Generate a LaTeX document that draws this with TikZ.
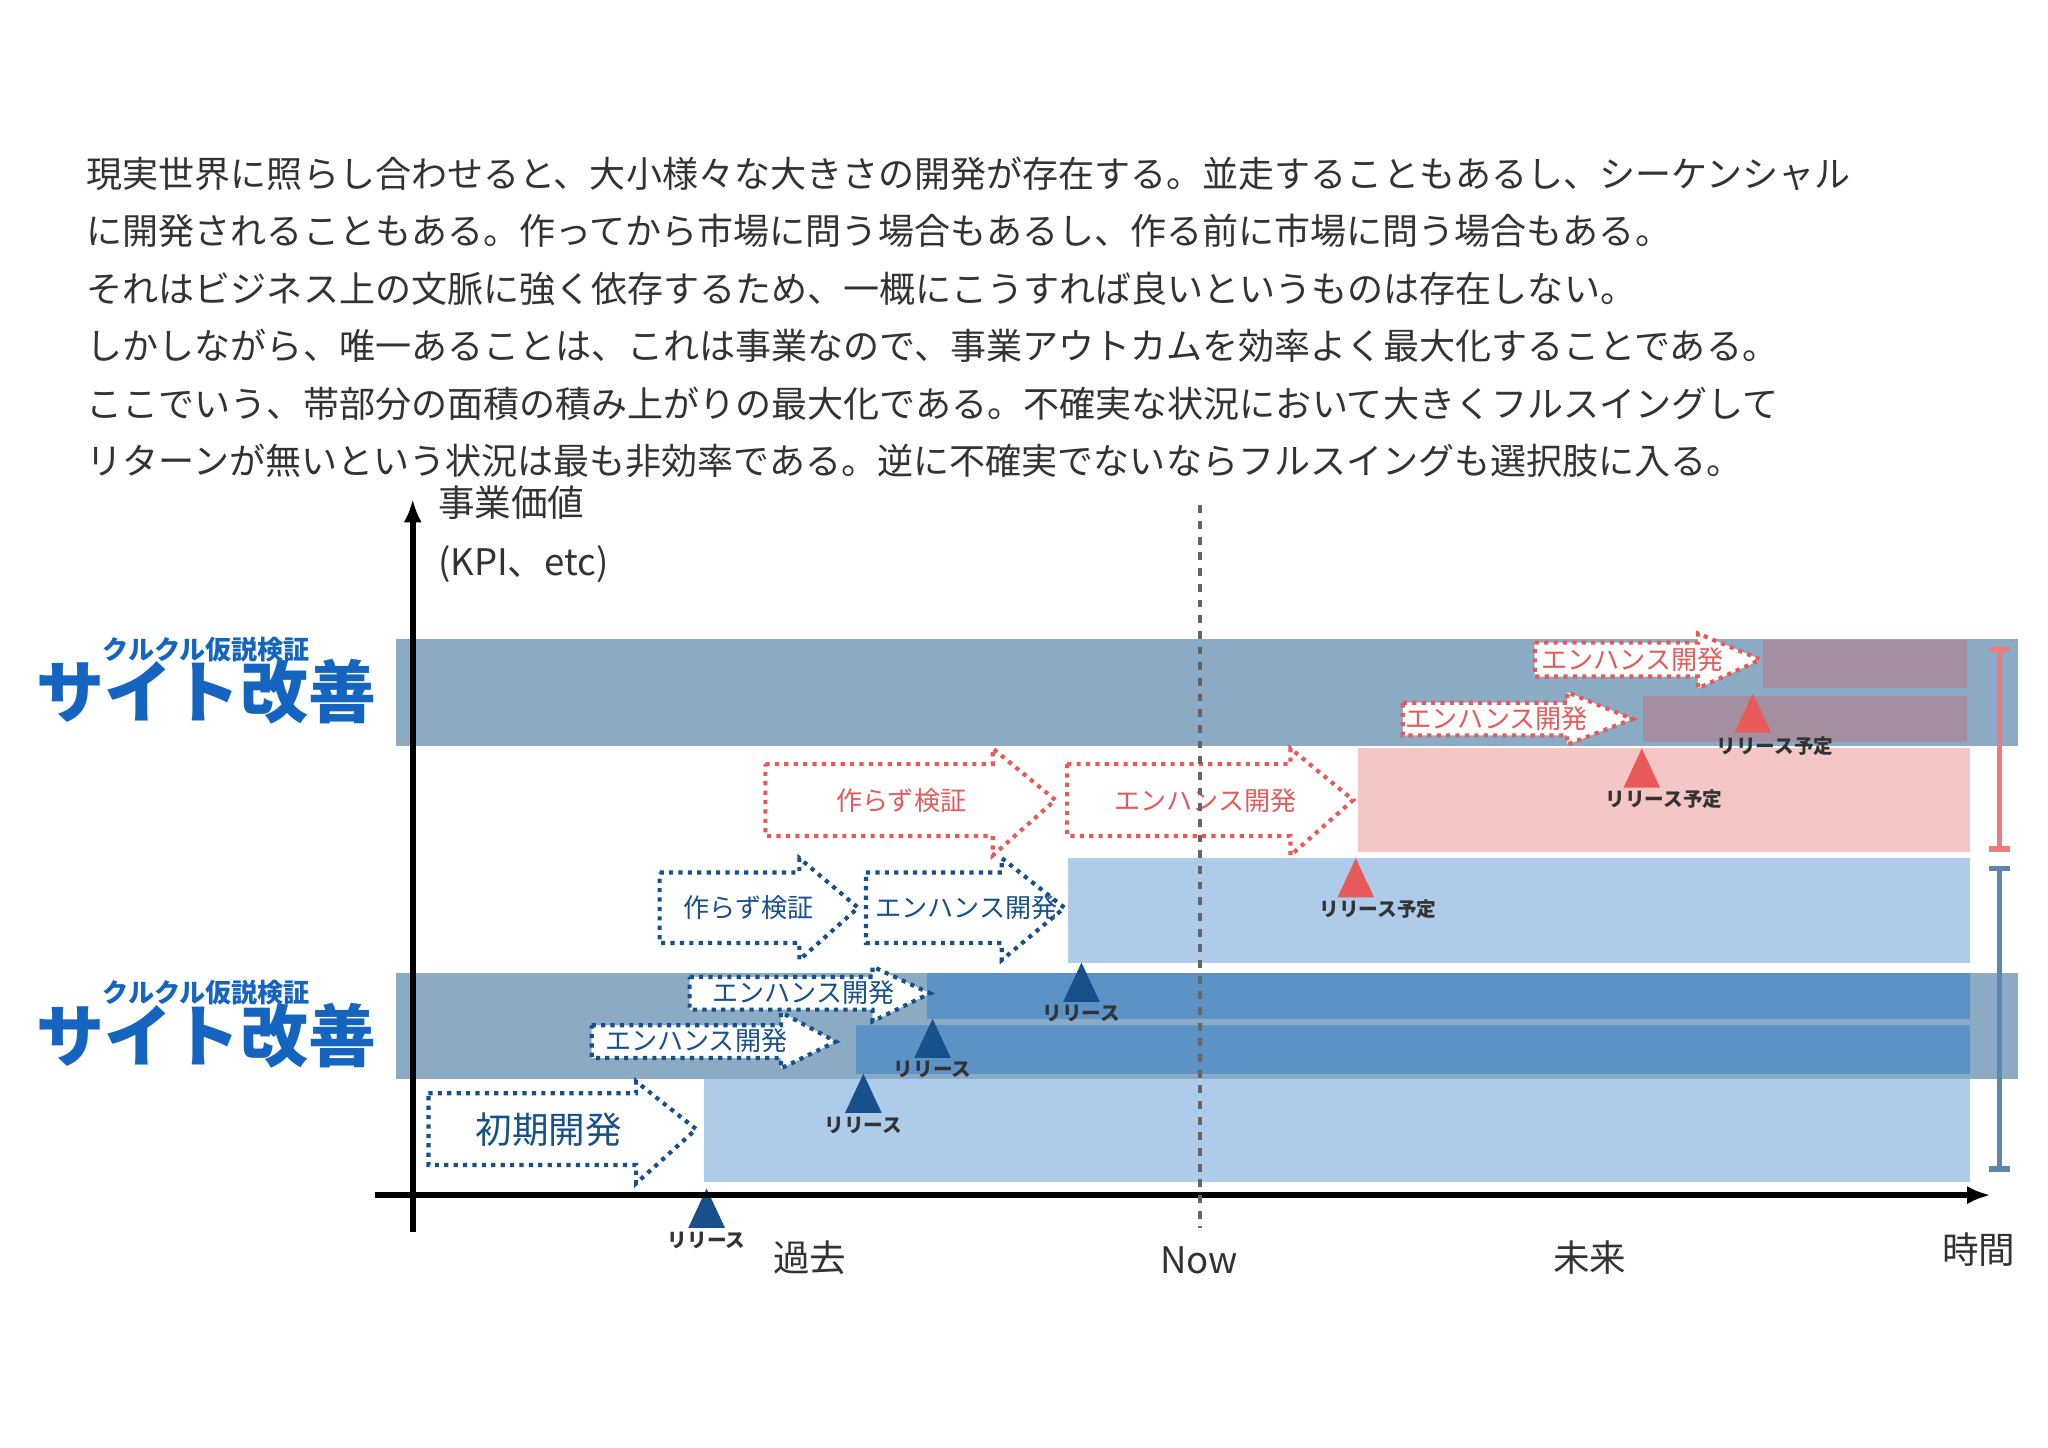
\documentclass[tikz,border=0pt]{standalone}
\usepackage{fontspec}
\setmainfont{Noto Sans CJK JP}
\usetikzlibrary{arrows.meta}
\definecolor{band}{HTML}{8BAAC4}
\definecolor{lblue}{HTML}{AECBE9}
\definecolor{dblue}{HTML}{5B93C6}
\definecolor{pinkr}{HTML}{F5C6C6}
\definecolor{purp}{HTML}{A48FA0}
\definecolor{navy}{HTML}{17508A}
\definecolor{redd}{HTML}{E85A5A}
\definecolor{title}{HTML}{1565C0}
\definecolor{txt}{HTML}{333333}
\tikzset{
 para/.style={anchor=west,font=\fontsize{13.8pt}{16pt}\selectfont,text=txt,inner sep=0},
 rel/.style={font=\bfseries\fontsize{7.5pt}{9pt}\selectfont,text=txt,inner sep=0},
 axl/.style={font=\fontsize{14pt}{16pt}\selectfont,text=txt,inner sep=0},
 barr/.style={draw=navy,dotted,line width=1.6pt,fill=white},
 rarr/.style={draw=redd,dotted,line width=1.6pt,fill=white},
}
% body x1,y1,y2 ; head xh,yh1,yh2 ; tip
\newcommand{\darr}[8]{\path[#1] (#2,#3)--(#5,#3)--(#5,#6)--(#8,{(#3+#4)/2})--(#5,#7)--(#5,#4)--(#2,#4)--cycle;}
\begin{document}
\begin{tikzpicture}[x=0.5pt,y=-0.5pt]
\useasboundingbox (0,0) rectangle (1568,1108);
\fill[white] (0,0) rectangle (1568,1108);
\node[para] (p1) at (66,133) {現実世界に照らし合わせると、大小様々な大きさの開発が存在する。並走することもあるし、シーケンシャル};
\node[para] (p2) at (66,177) {に開発されることもある。作ってから市場に問う場合もあるし、作る前に市場に問う場合もある。};
\node[para] (p3) at (66,221) {それはビジネス上の文脈に強く依存するため、一概にこうすれば良いというものは存在しない。};
\node[para] (p4) at (66,265) {しかしながら、唯一あることは、これは事業なので、事業アウトカムを効率よく最大化することである。};
\node[para] (p5) at (66,309) {ここでいう、帯部分の面積の積み上がりの最大化である。不確実な状況において大きくフルスイングして};
\node[para] (p6) at (66,353) {リターンが無いという状況は最も非効率である。逆に不確実でないならフルスイングも選択肢に入る。};
% bands
\fill[band] (303,489) rectangle (1545,571);
\fill[band] (303,745) rectangle (1545,826);
\fill[lblue] (539,826) rectangle (1508,905);
\fill[lblue] (818,657) rectangle (1508,737);
\fill[dblue] (655,785) rectangle (1508,822);
\fill[dblue] (710,745) rectangle (1508,780);
\fill[pinkr] (1040,573) rectangle (1508,652);
\fill[purp] (1258,533) rectangle (1506,568);
\fill[purp] (1350,490) rectangle (1506,527);
% titles
\foreach \yy/\nm in {497/a,760/b}{
 \node[font=\bfseries\fontsize{10pt}{12pt}\selectfont,text=title,inner sep=0] (k\nm) at (158,\yy) {クルクル仮説検証};
 \node[font=\bfseries\fontsize{26pt}{30pt}\selectfont,text=title,inner sep=0] (s\nm) at (158,\yy+33) {サイト改善};
}
% dotted arrows blue
\darr{barr}{328}{837}{892}{487}{828}{906}{533}
\node[font=\fontsize{14pt}{16pt}\selectfont,text=navy] (t1) at (420,865) {初期開発};
\darr{barr}{505}{668}{722}{612}{657}{735}{657}
\node[font=\fontsize{10pt}{12pt}\selectfont,text=navy] (t2) at (573,695) {作らず検証};
\darr{barr}{663}{668}{722}{767}{657}{735}{815}
\node[font=\fontsize{10pt}{12pt}\selectfont,text=navy] (t3) at (740,695) {エンハンス開発};
\darr{barr}{528}{748}{773}{668}{740}{782}{712}
\node[font=\fontsize{10pt}{12pt}\selectfont,text=navy] (t4) at (615,760) {エンハンス開発};
\darr{barr}{453}{785}{810}{598}{775}{818}{640}
\node[font=\fontsize{10pt}{12pt}\selectfont,text=navy] (t5) at (533,797) {エンハンス開発};
% red
\darr{rarr}{586}{585}{640}{760}{573}{655}{808}
\node[font=\fontsize{10pt}{12pt}\selectfont,text=redd] (t6) at (690,613) {作らず検証};
\darr{rarr}{817}{585}{640}{988}{573}{655}{1036}
\node[font=\fontsize{10pt}{12pt}\selectfont,text=redd] (t7) at (923,613) {エンハンス開発};
\darr{rarr}{1074}{538}{563}{1200}{530}{570}{1250}
\node[font=\fontsize{10pt}{12pt}\selectfont,text=redd] (t8) at (1146,550) {エンハンス開発};
\darr{rarr}{1175}{492}{518}{1300}{485}{527}{1348}
\node[font=\fontsize{10pt}{12pt}\selectfont,text=redd] (t9) at (1250,505) {エンハンス開発};
% triangles
\foreach \xx/\yt/\cl/\lb/\n in {541/910/navy/リリース/a,661/822/navy/リリース/b,714/780/navy/リリース/c,828/737/navy/リリース/d,1038/657/redd/リリース予定/e,1257/573/redd/リリース予定/f,1342/531/redd/リリース予定/g}{
 \fill[\cl] (\xx-14,\yt+30)--(\xx,\yt)--(\xx+14,\yt+30)--cycle;
}
\node[rel] (r1) at (541,950) {リリース};
\node[rel] (r2) at (661,862) {リリース};
\node[rel] (r3) at (714,819) {リリース};
\node[rel] (r4) at (828,776) {リリース};
\node[rel] (r5) at (1055,696) {リリース予定};
\node[rel] (r6) at (1274,612) {リリース予定};
\node[rel] (r7) at (1359,571) {リリース予定};
% range bars
\draw[redd!80,line width=2pt] (1523,497)--(1539,497) (1531,497)--(1531,650) (1523,650)--(1539,650);
\draw[navy!70!white,line width=2pt] (1523,665)--(1539,665) (1531,665)--(1531,895) (1523,895)--(1539,895);
% axes
\coordinate (yo) at (316,943); \coordinate (yt) at (316,382);
\coordinate (xo) at (287,915); \coordinate (xt) at (1524,915);
\draw[line width=2.4pt,-{Latex[length=9pt,width=7pt]}] (yo)--(yt);
\draw[line width=2.4pt,-{Latex[length=9pt,width=7pt]}] (xo)--(xt);
\draw[gray!80!black,dashed,line width=1.5pt] (919,387)--(919,940);
\node[axl,anchor=west] (a1) at (335,385) {事業価値};
\node[axl,anchor=west] (a2) at (335,432) {(KPI、etc)};
\node[axl] (a3) at (620,963) {過去};
\node[axl] (a4) at (918,965) {Now};
\node[axl] (a5) at (1217,963) {未来};
\node[axl] (a6) at (1515,957) {時間};
\end{tikzpicture}
\end{document}
